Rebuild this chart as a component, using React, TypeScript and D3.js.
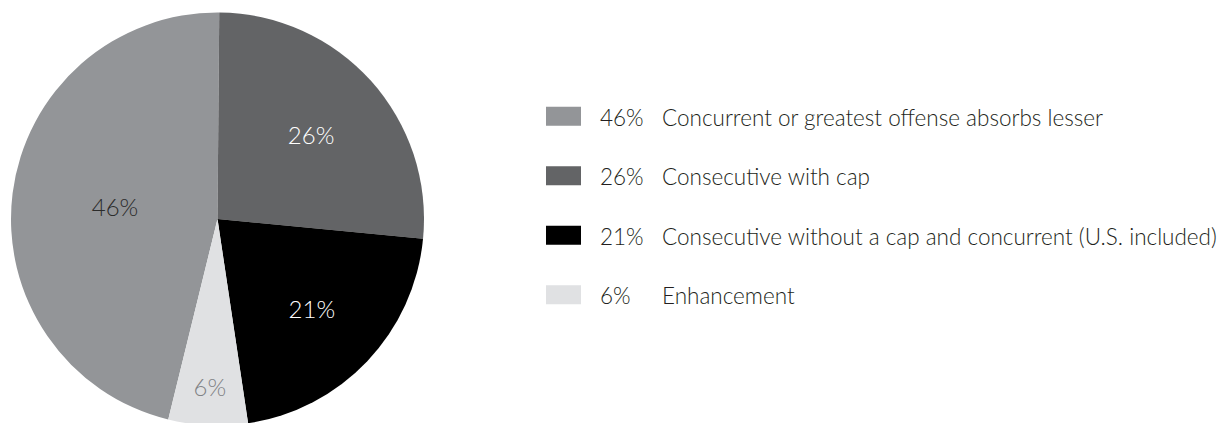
import React from "react";
import * as d3 from "d3";

// legend order == clockwise order of the slices, starting with the 46% slice
const categories = [
  "Concurrent or greatest offense absorbs lesser",
  "Consecutive with cap",
  "Consecutive without a cap and concurrent (U.S. included)",
  "Enhancement",
];
const shares = [46.3, 26.4, 21.1, 6.2];
const shareLabels = ["46%", "26%", "21%", "6%"];

const colors = ["#939598", "#636466", "#000000", "#e0e1e3"];
const labelColors = ["#2b2b2b", "#ffffff", "#ffffff", "#808285"];
const labelRadius = [0.5, 0.61, 0.63, 0.81];

const width = 1231;
const height = 423;
const cx = 217.5;
const cy = 219;
const radius = 206.5;
const startDeg = 193.8;

const fontFamily = "Lato, 'Open Sans', sans-serif";

type Row = { name: string; value: number; label: string; i: number };
const rows: Row[] = categories.map((name, i) => ({ name, value: shares[i], label: shareLabels[i], i }));

const pie = d3
  .pie<Row>()
  .sort(null)
  .value((d) => d.value)
  .startAngle((startDeg * Math.PI) / 180)
  .endAngle((startDeg * Math.PI) / 180 + 2 * Math.PI);

const arc = d3.arc<d3.PieArcDatum<Row>>().innerRadius(0).outerRadius(radius);

const legendY = d3.scaleBand<number>().domain(d3.range(rows.length)).range([86.5, 324.5]);

export default function App() {
  const slices = pie(rows);
  return (
    <svg width={width} height={height} style={{ position: "absolute", left: 0, top: 0, background: "#fff" }}>
      <g transform={`translate(${cx},${cy})`}>
        {slices.map((s) => (
          <path key={s.data.name} d={arc(s) ?? ""} fill={colors[s.data.i]} />
        ))}
        {slices.map((s) => {
          const r = radius * labelRadius[s.data.i];
          const [x, y] = d3.arc<d3.PieArcDatum<Row>>().innerRadius(r).outerRadius(r).centroid(s);
          return (
            <text
              key={"l" + s.data.name}
              x={x}
              y={y}
              textAnchor="middle"
              dominantBaseline="central"
              fontFamily={fontFamily}
              fontWeight={300}
              fontSize={24}
              fill={labelColors[s.data.i]}
            >
              {s.data.label}
            </text>
          );
        })}
      </g>
      <g>
        {rows.map((d) => {
          const yc = (legendY(d.i) ?? 0) + legendY.bandwidth() / 2;
          return (
            <g key={"lg" + d.name}>
              <rect x={546} y={yc - 9.5} width={35} height={19} fill={colors[d.i]} />
              <text x={600} y={yc + 9.5} fontFamily={fontFamily} fontWeight={300} fontSize={22.5} fill="#231f20">
                {d.label}
              </text>
              <text x={662} y={yc + 9.5} fontFamily={fontFamily} fontWeight={300} fontSize={22.5} fill="#231f20">
                {d.name}
              </text>
            </g>
          );
        })}
      </g>
    </svg>
  );
}
